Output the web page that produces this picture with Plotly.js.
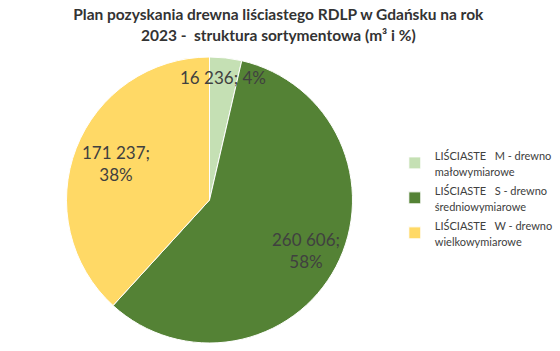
<!DOCTYPE html>
<html><head><meta charset="utf-8">
<script src="https://cdn.plot.ly/plotly-3.0.1.min.js"></script>
<style>html,body{margin:0;padding:0;background:#fff}#chart{width:560px;height:351px}</style>
</head><body><div id="chart"></div>
<script>
var categories = [
  "LIŚCIASTE\u00a0\u00a0\u00a0M - drewno<br>małowymiarowe",
  "LIŚCIASTE\u00a0\u00a0\u00a0S - drewno<br>średniowymiarowe",
  "LIŚCIASTE\u00a0\u00a0\u00a0W - drewno<br>wielkowymiarowe"
];
var values = [16236, 260606, 171237];
var colors = ["#C5E0B4", "#548235", "#FFD966"];
var labelBreak = ["; ", ";<br>", ";<br>"];
var labelRadius = [0.86, 0.76, 0.70];

function fmt(v){ return String(v).replace(/\B(?=(\d{3})+(?!\d))/g, " "); }
var total = values.reduce(function(a,b){return a+b;},0);
var texts = values.map(function(v,i){ return fmt(v) + labelBreak[i] + Math.round(100*v/total) + "%"; });
var legendNames = categories.map(function(c){
  return c.split('<br>').map(function(s){ return '<span style="font-size:11px">' + s + '</span>'; }).join('<br>');
});

var W = 560, H = 351;
var cx = 209.5, cy = 200, R = 143;
var dom = {x:[(cx-R)/W, (cx+R)/W], y:[(H-cy-R)/H, (H-cy+R)/H]};

var ann = [];
var acc = 0;
values.forEach(function(v,i){
  var mid = (acc + v/2)/total * 2*Math.PI; acc += v;
  var r = R*labelRadius[i];
  var px = cx + Math.sin(mid)*r, py = cy - Math.cos(mid)*r;
  ann.push({x:px/W, y:1-py/H, xref:'paper', yref:'paper', xanchor:'center', yanchor:'middle',
    text:texts[i], showarrow:false,
    font:{family:'Lato, "Liberation Sans", sans-serif', size:17, color:'#404040'}, align:'center'});
});

var data = [{
  type:'pie', labels:legendNames, values:values, sort:false, direction:'clockwise', rotation:0,
  marker:{colors:colors, line:{color:'#ffffff', width:1}},
  textinfo:'none', hoverinfo:'none', domain:dom
}];
var layout = {
  width:W, height:H, margin:{l:0,r:0,t:0,b:0,autoexpand:false}, paper_bgcolor:'#fff',
  title:{text:'Plan pozyskania drewna liściastego RDLP w Gdańsku na rok<br>2023 -  struktura sortymentowa (m³ i %)',
    x:0.497, xref:'paper', y:0.942, yref:'paper', yanchor:'middle',
    font:{family:'Lato, "Liberation Sans", sans-serif', size:15.5, color:'#333333', weight:'bold'}},
  showlegend:true,
  legend:{x:0.705, y:0.6, xanchor:'left', yanchor:'top', font:{family:'Lato, "Liberation Sans", sans-serif', size:12.3, color:'#404040'},
    itemwidth:30, tracegroupgap:5, bgcolor:'rgba(0,0,0,0)'},
  annotations:ann
};
Plotly.newPlot('chart', data, layout, {staticPlot:true, displayModeBar:false});
</script></body></html>
